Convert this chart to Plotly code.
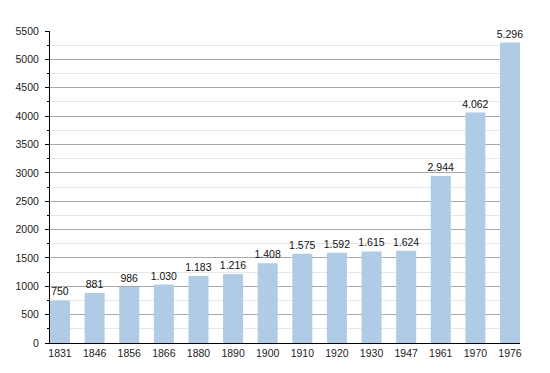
import plotly.graph_objects as go

years = ["1831", "1846", "1856", "1866", "1880", "1890", "1900", "1910",
         "1920", "1930", "1947", "1961", "1970", "1976"]
population = [750, 881, 986, 1030, 1183, 1216, 1408, 1575,
              1592, 1615, 1624, 2944, 4062, 5296]
labels = [f"{v:,}".replace(",", ".") for v in population]

FONT = "Liberation Sans, Arial, Helvetica, sans-serif"

fig = go.Figure(go.Bar(
    x=years, y=population,
    text=labels, textposition="outside", constraintext="none",
    textfont=dict(size=10.5, color="#111", family=FONT),
    cliponaxis=False,
    marker=dict(color="#b0cbe6", line=dict(width=0)),
    hoverinfo="skip",
))

# the page body adds an 8px offset, so the figure is sized to fit after it
w = 0.578
fig.update_layout(
    width=542, height=365,
    margin=dict(l=42, r=30, t=23, b=30, autoexpand=False),
    paper_bgcolor="white", plot_bgcolor="white",
    bargap=1 - w,
    showlegend=False,
    font=dict(family=FONT, size=10.5, color="#222"),
    xaxis=dict(
        type="category", range=[-w / 2, 13 + w / 2], automargin=False,
        showline=True, linecolor="black", linewidth=1,
        ticks="", showgrid=False,
        tickfont=dict(size=10.5, color="#222"),
    ),
    yaxis=dict(
        range=[0, 5500], dtick=500, tick0=0, automargin=False,
        showline=True, linecolor="black", linewidth=1,
        ticks="outside", ticklen=4, tickcolor="black", tickwidth=1,
        gridcolor="#a8a8a8", gridwidth=1,
        zeroline=False,
        tickfont=dict(size=10.5, color="#222"),
        ticklabelstandoff=4,
        minor=dict(dtick=250, showgrid=True, gridcolor="#e6e6e6",
                   ticks="outside", ticklen=2, tickcolor="black"),
    ),
)

fig.write_html("out.html")
